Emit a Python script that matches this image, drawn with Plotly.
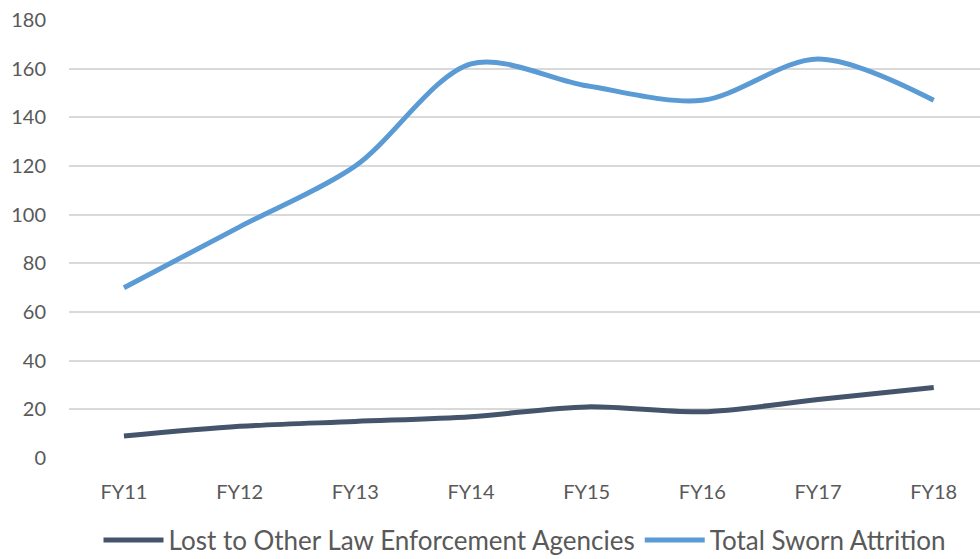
import plotly.graph_objects as go

categories = ["FY11", "FY12", "FY13", "FY14", "FY15", "FY16", "FY17", "FY18"]
lost_to_other = [9, 13, 15, 17, 21, 19, 24, 29]
total_sworn = [70, 95, 120, 162, 153, 147, 164, 147]
y_ticks = [0, 20, 40, 60, 80, 100, 120, 140, 160, 180]

FONT = "Lato"
TEXT = "#595959"

fig = go.Figure()
fig.add_trace(go.Scatter(
    x=list(range(len(categories))), y=lost_to_other, mode="lines",
    name="Lost to Other Law Enforcement Agencies",
    line=dict(color="#44546A", width=5, shape="spline", smoothing=0.9),
))
fig.add_trace(go.Scatter(
    x=list(range(len(categories))), y=total_sworn, mode="lines",
    name="Total Sworn Attrition",
    line=dict(color="#5B9BD5", width=5, shape="spline", smoothing=0.9),
))

fig.update_layout(
    width=980, height=559,
    margin=dict(l=69, r=0, t=20, b=101, autoexpand=False),
    paper_bgcolor="white", plot_bgcolor="white",
    font=dict(family=FONT, color=TEXT, size=20),
    showlegend=True,
    legend=dict(orientation="h", x=0.5, xanchor="center", y=-0.134, yanchor="top",
                font=dict(size=26, color=TEXT, family=FONT), itemwidth=60,
                tracegroupgap=0),
    hovermode=False,
)
fig.update_xaxes(
    tickmode="array", tickvals=list(range(len(categories))), ticktext=categories,
    range=[-0.475, 7.40], showgrid=False, zeroline=False, showline=False,
    ticks="", ticklabelstandoff=20, automargin=False,
    tickfont=dict(size=20, color=TEXT, family=FONT),
)
fig.update_yaxes(
    range=[0, 180.01], tickvals=y_ticks, showgrid=True, gridcolor="#D9D9D9", gridwidth=2,
    zeroline=False, showline=False, ticks="", ticklabelstandoff=22, automargin=False,
    tickfont=dict(size=20, color=TEXT, family=FONT),
)

fig.write_html(
    "out.html",
    config={"displayModeBar": False},
    post_script="document.body.style.margin='0';document.body.style.overflow='hidden';",
)
